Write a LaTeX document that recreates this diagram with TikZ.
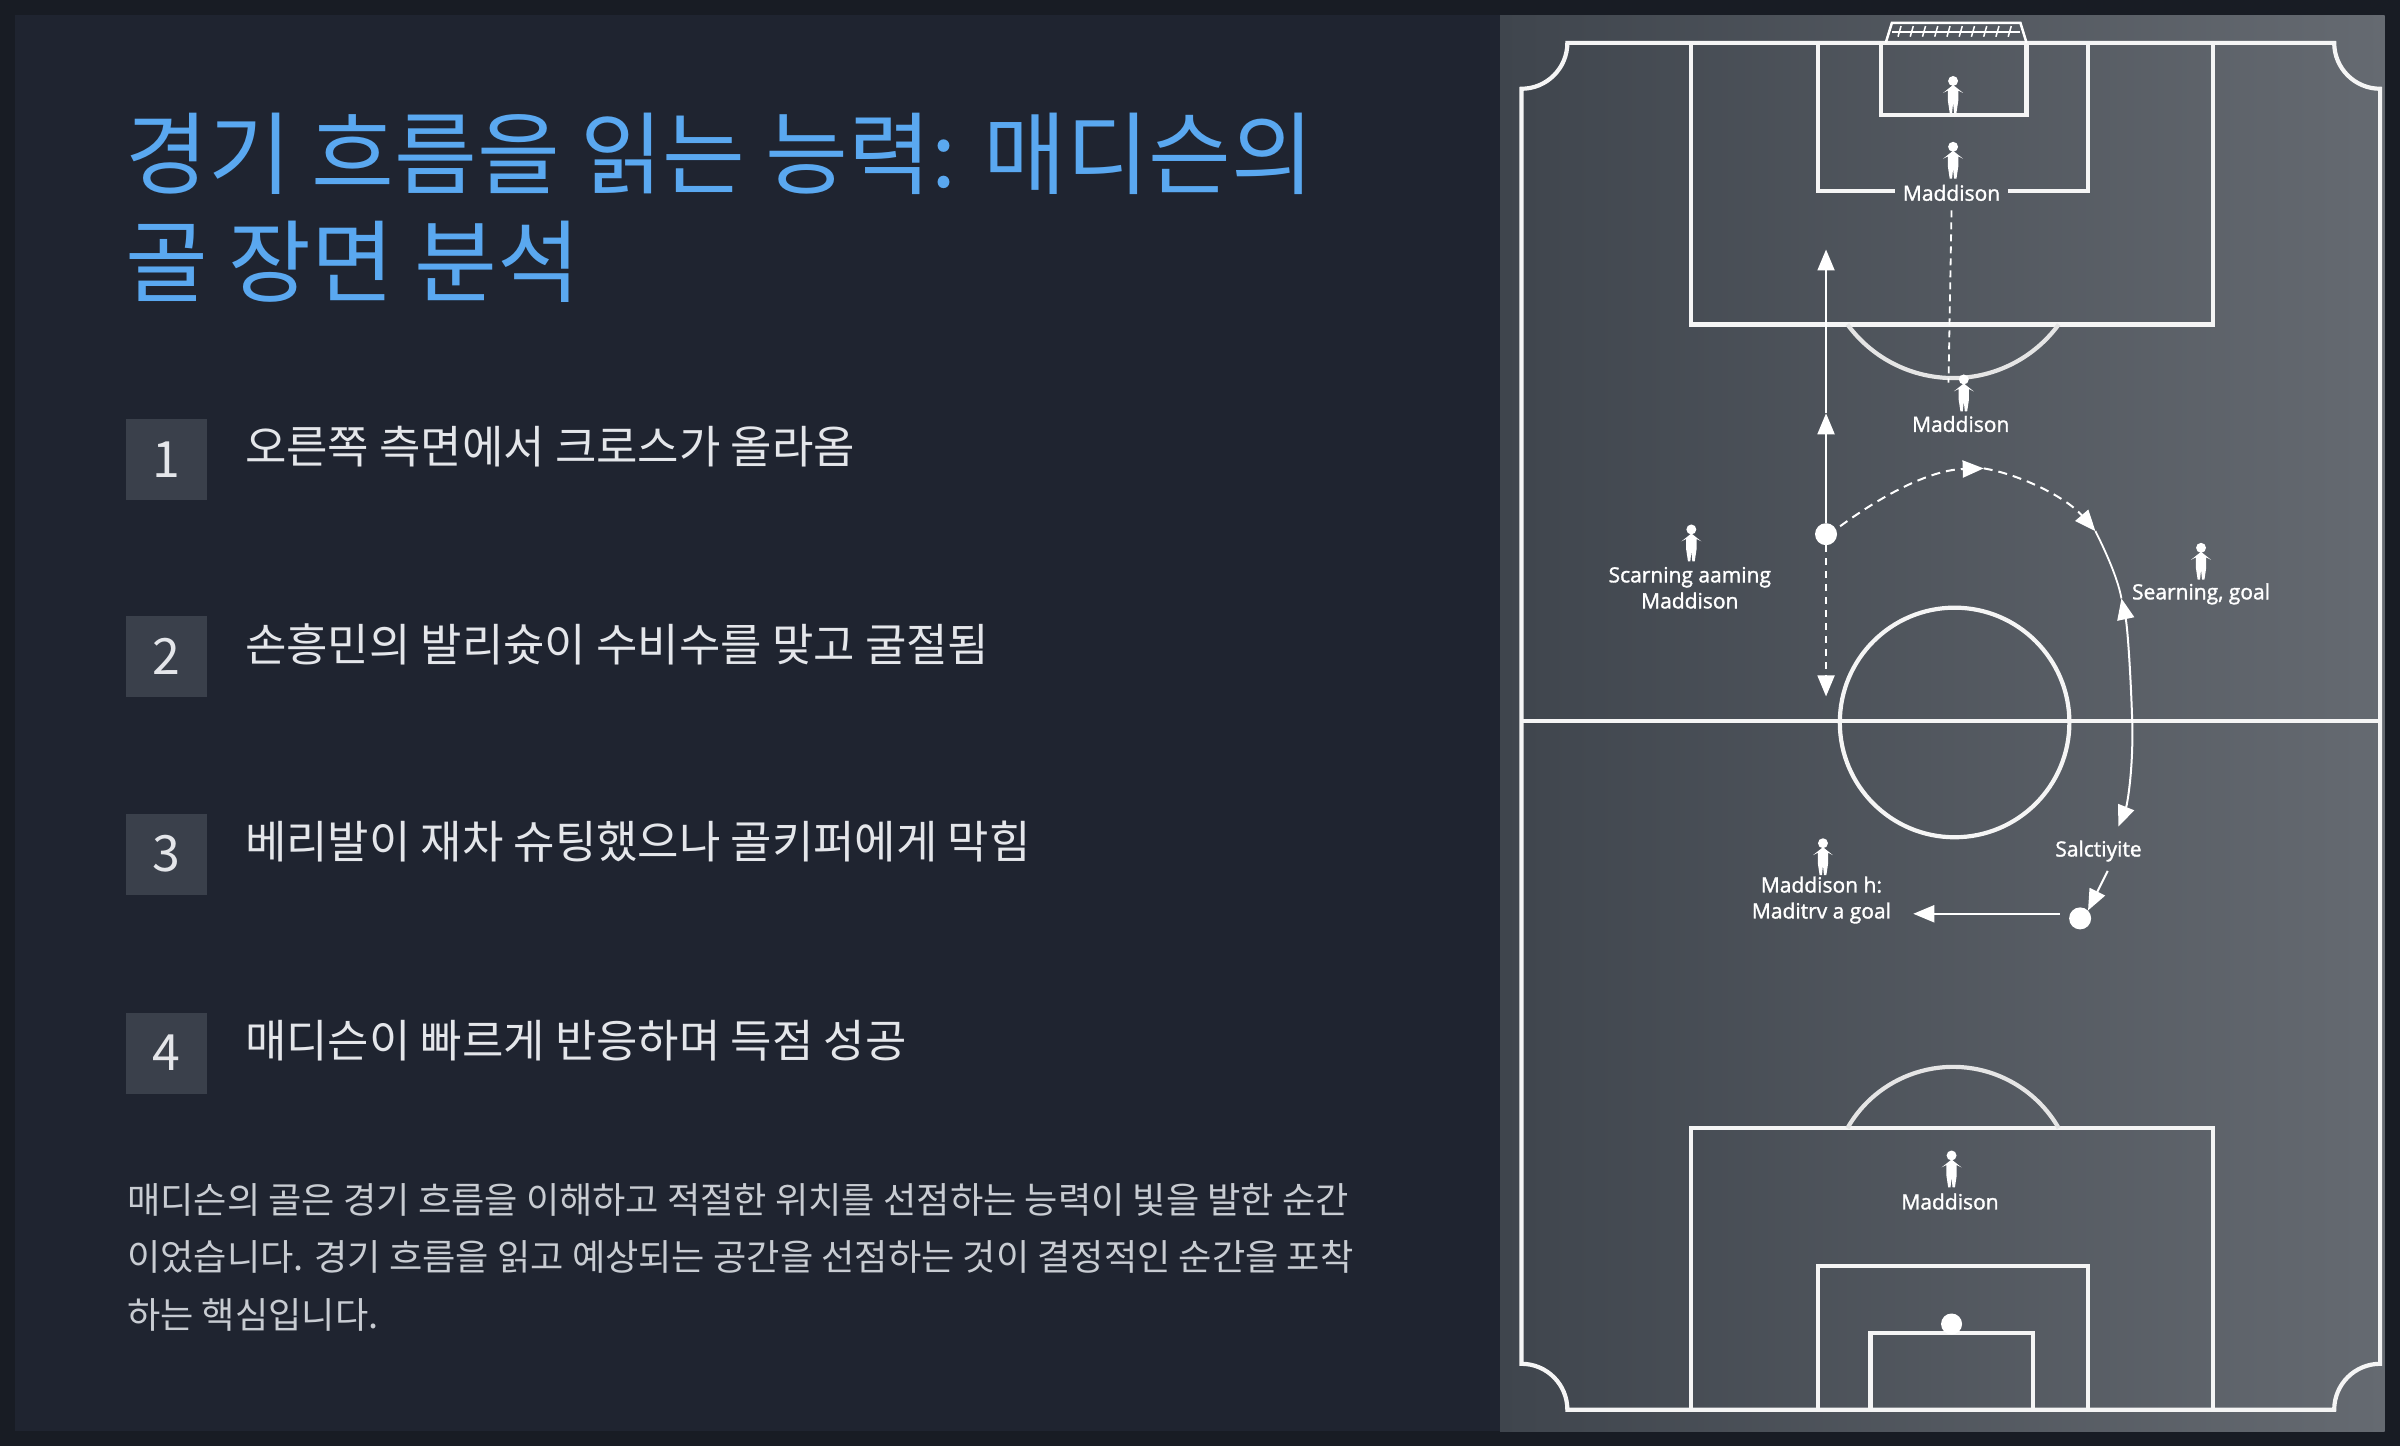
\documentclass[tikz,border=0pt]{standalone}
\usepackage{fontspec}
\newfontfamily\kr{Noto Sans CJK KR}
\newfontfamily\lab{Open Sans}[FakeBold=1.5]
\usetikzlibrary{arrows.meta}
\definecolor{outerbg}{HTML}{181C24}
\definecolor{leftbg}{HTML}{1F2430}
\definecolor{titleblue}{HTML}{5AA8F0}
\definecolor{boxgray}{HTML}{3A404B}
\definecolor{txt}{HTML}{E4E6EA}
\definecolor{para}{HTML}{C8CCD2}
\definecolor{fieldl}{HTML}{3F454D}
\definecolor{fieldr}{HTML}{656A71}
\begin{document}
\begin{tikzpicture}[x=1.5306pt,y=-1.5306pt,
  fline/.style={draw=white!92!gray,line width=4.2pt},
  mv/.style={draw=white,line width=2pt,-{Triangle[width=17pt,length=21pt]}},
  lbl/.style={text=white,font=\lab\fontsize{21}{26}\selectfont,align=center,inner sep=0pt},
  numbox/.style={fill=boxgray,minimum width=81pt,minimum height=81pt,inner sep=0pt,text=txt,font=\kr\fontsize{50}{52}\selectfont},
  item/.style={anchor=west,text=txt,font=\kr\fontsize{45}{50}\selectfont,inner sep=0pt},
  ball/.style={circle,fill=white,minimum size=22pt,inner sep=0pt},
  person/.pic={\begin{scope}[scale=1.3]\fill[white] (0,-7) circle (2.5);
    \fill[white] (-5,-1)--(0,-5)--(5,-1)--(2.6,-2.2)--(2.6,3)--(1.7,9)--(0.5,9)--(0,4)--(-0.5,9)--(-1.7,9)--(-2.6,3)--(-2.6,-2.2)--cycle;\end{scope}}]
\useasboundingbox (0,0) rectangle (1568,945);
\fill[outerbg] (0,0) rectangle (1568,945);
\fill[leftbg] (10,10) rectangle (980,935);
\shade[left color=fieldl,right color=fieldr] (980,10) rectangle (1558,935);
% title
\node[anchor=north west,text=titleblue,font=\kr\fontsize{90}{108}\selectfont,align=left,inner sep=0pt] (title) at (82,74) {경기 흐름을 읽는 능력: 매디슨의\\골 장면 분석};
% items
\foreach \n/\y/\t in {1/300/오른쪽 측면에서 크로스가 올라옴,2/429/손흥민의 발리슛이 수비수를 맞고 굴절됨,3/558/베리발이 재차 슈팅했으나 골키퍼에게 막힘,4/688/매디슨이 빠르게 반응하며 득점 성공}{
  \node[numbox] (b\n) at (108.5,\y) {\n};
  \node[item] (i\n) at (160,\y-8) {\t};
}
\node[anchor=north west,text=para,font=\kr\fontsize{36.2}{57.5}\selectfont,align=left,inner sep=0pt] (par) at (83,773) {매디슨의 골은 경기 흐름을 이해하고 적절한 위치를 선점하는 능력이 빛을 발한 순간\\이었습니다. 경기 흐름을 읽고 예상되는 공간을 선점하는 것이 결정적인 순간을 포착\\하는 핵심입니다.};
% field
\draw[fline] (1024,28) -- (1525,28) arc[start angle=180,end angle=90,radius=30] -- (1555,891) arc[start angle=270,end angle=180,radius=30] -- (1024,921) arc[start angle=0,end angle=-90,radius=30] -- (994,58) arc[start angle=90,end angle=0,radius=30] -- cycle;
\draw[fline] (994,471) -- (1555,471);
\draw[fline] (1277,472) circle (75);
\draw[fline] (1105,28) rectangle (1446,212);
\draw[fline,draw=white!80!gray] (1207,212) arc[start angle=143.8,end angle=36.2,radius=85.5];
\draw[fline] (1188,28) -- (1188,125) -- (1238,125) (1312,125) -- (1364,125) -- (1364,28);
\draw[fline] (1229,28) rectangle (1324,75);
\draw[draw=white,line width=2.5pt] (1232,28) -- (1236,15) -- (1320,15) -- (1324,28);
\foreach \x in {1242,1250,...,1314} \draw[white,line width=1.5pt] (\x,17)--(\x-2,24);
\draw[white,line width=1.5pt] (1236,21)--(1320,21);
\draw[fline] (1105,921) -- (1105,737) -- (1446,737) -- (1446,921);
\draw[fline,draw=white!80!gray] (1207,737) arc[start angle=209.8,end angle=330.2,radius=79.5];
\draw[fline] (1188,921) -- (1188,827) -- (1364,827) -- (1364,921);
\draw[fline] (1222,921) -- (1222,871) -- (1328,871) -- (1328,921);
\node[circle,fill=white,minimum size=21pt,inner sep=0pt] (spot) at (1275,865) {};
% players and labels
\pic at (1276,62) {person};
\pic at (1276,105) {person};
\node[lbl] (m1) at (1275,126) {Maddison};
\pic at (1283,257) {person};
\node[lbl] (m2) at (1281,277) {Maddison};
\draw[white,line width=1.8pt,dash pattern=on 7pt off 5pt] (m1.south) ++(0,6) -- (1273,250);
\pic at (1105,355) {person};
\node[lbl] (sc) at (1104,384) {Scarning aaming\\Maddison};
\pic at (1438,367) {person};
\node[lbl] (se) at (1438,388) {Searning, goal};
\node[lbl] (sa) at (1371,556) {Salctiyite};
\pic at (1191,560) {person};
\node[lbl] (md) at (1190,588) {Maddison h:\\Maditrv a goal};
\pic at (1275,764) {person};
\node[lbl] (m3) at (1274,785) {Maddison};
% balls
\node[ball] (b1) at (1193,349) {};
\node[ball] (b2) at (1359,600) {};
\coordinate (top) at (1193,163);
\coordinate (low) at (1193,455);
\coordinate (mid) at (1193,270);
\draw[mv] (b1) -- (mid);
\draw[mv] (mid) -- (top);
\draw[mv,dash pattern=on 7pt off 6pt] (b1) -- (low);
\coordinate (apex) at (1296,306);
\coordinate (arcend) at (1369,347);
\draw[mv,dash pattern=on 9pt off 6pt] (b1.north east) ++(4,0) .. controls (1232,322) and (1262,307) .. (apex);
\draw[mv,dash pattern=on 9pt off 6pt] (apex) .. controls (1320,310) and (1350,325) .. (arcend);
\coordinate (side) at (1393,470);
\coordinate (up) at (1386,391);
\coordinate (dn) at (1384,540);
\draw[white,line width=1.8pt] (arcend) .. controls (1378,365) and (1384,380) .. (up);
\draw[mv] (side) .. controls (1392,440) and (1390,410) .. (up);
\draw[mv] (side) .. controls (1394,500) and (1390,525) .. (dn);
\draw[mv] (sa.south) ++(6,6) -- (b2.north east);
\draw[mv] (b2.west) ++(-6,-3) -- (1250,597);
\end{tikzpicture}
\end{document}
